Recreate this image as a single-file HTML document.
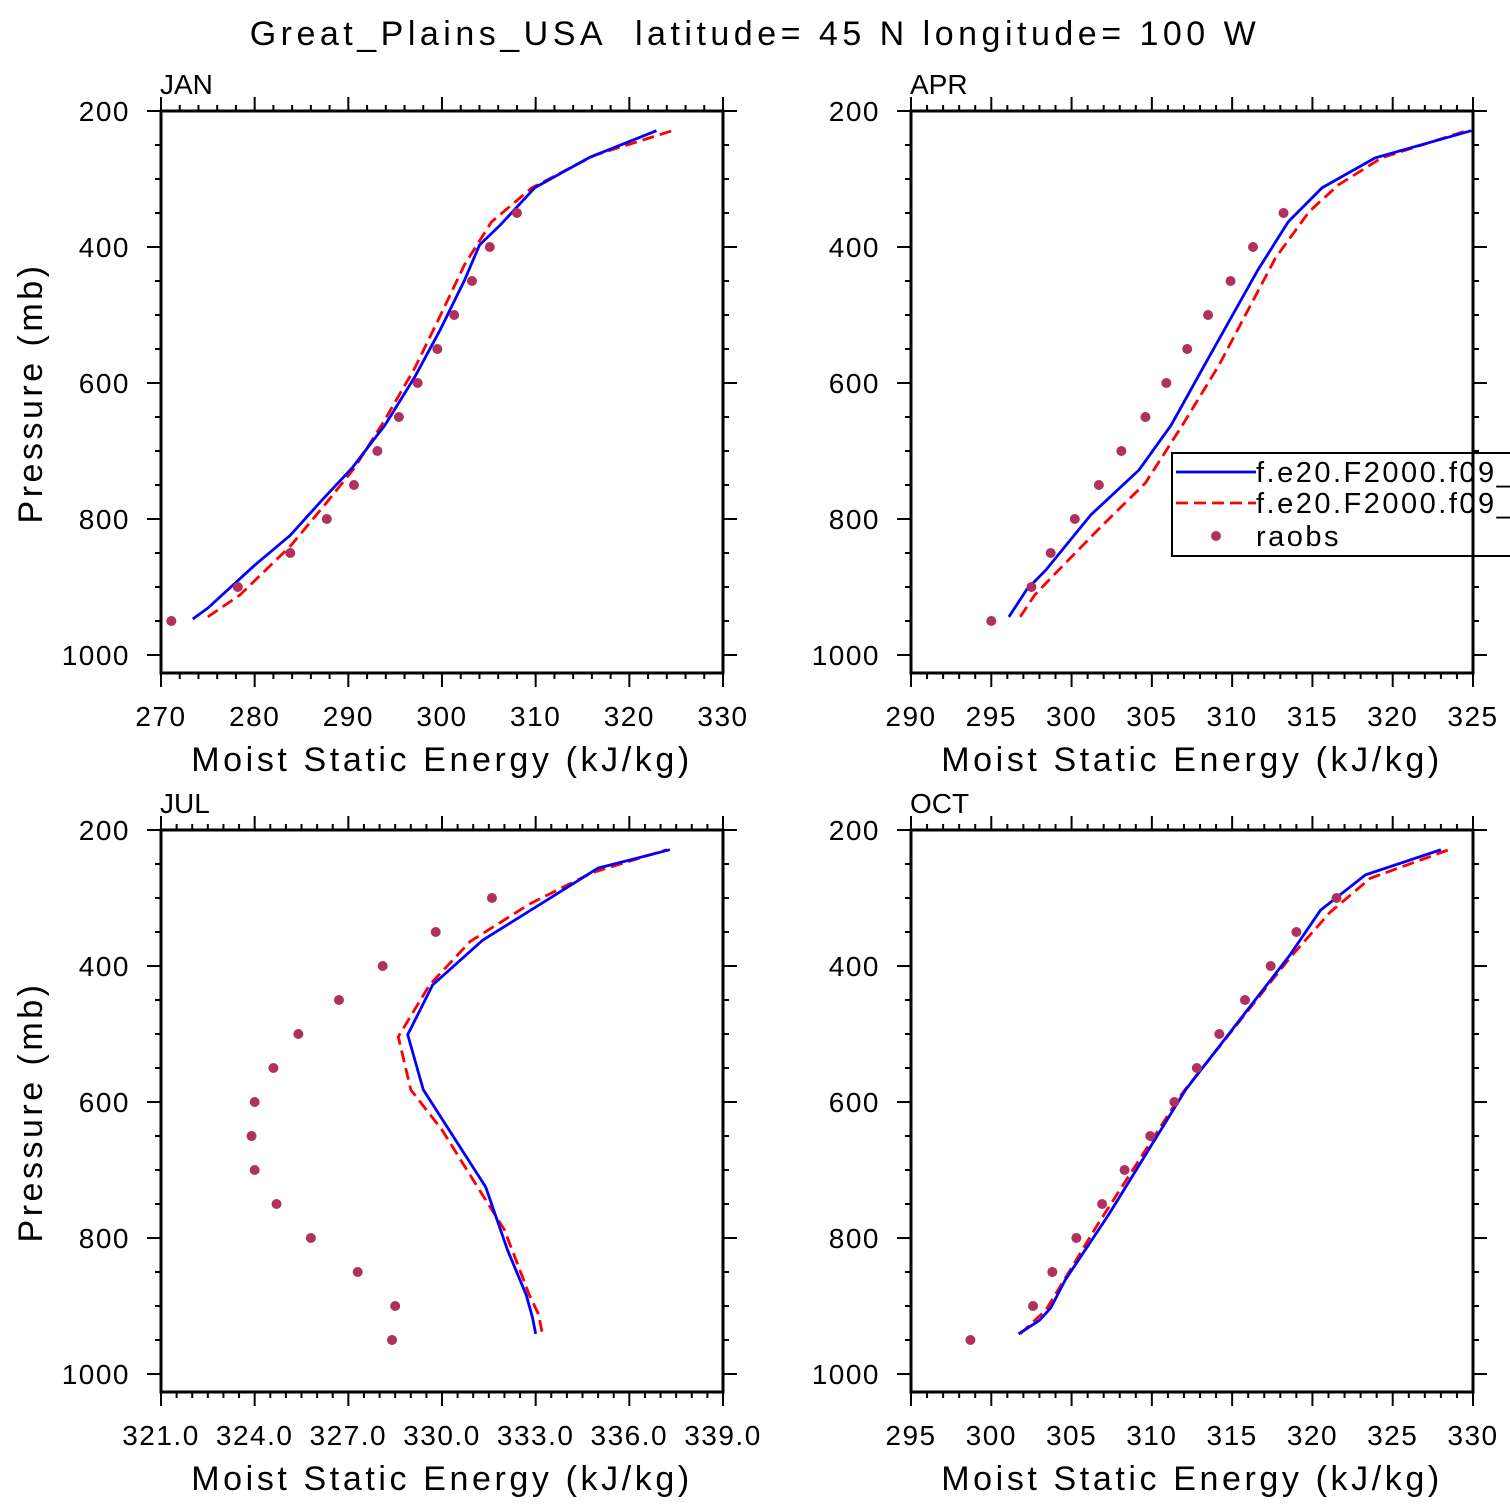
<!DOCTYPE html>
<html><head><meta charset="utf-8"><style>
body{margin:0;background:#fff;}
svg{display:block;}
text{font-family:"Liberation Sans","DejaVu Sans",sans-serif;fill:#000;}
</style></head><body>
<svg id="c" width="1510" height="1510" viewBox="0 0 1510 1510" xmlns="http://www.w3.org/2000/svg">
<text x="755" y="45" text-anchor="middle" font-size="34" letter-spacing="4.5">Great_Plains_USA&#160; latitude= 45 N longitude= 100 W</text>
</svg>
<script>
// raob pressure levels
const raobP = [950,900,850,800,750,700,650,600,550,500,450,400,350];
const raobPJul = [950,900,850,800,750,700,650,600,550,500,450,400,350,300];
const raobPOct = [950,900,850,800,750,700,650,600,550,500,450,400,350,300];
// JAN
const janRaob = [271.1,278.2,283.8,287.7,290.6,293.1,295.4,297.4,299.5,301.3,303.2,305.1,308.0];
const janBlueX = [273.4,275,280,283.8,287.2,290.4,293.9,297.1,299.8,302.4,304,306.2,309.9,315.8,322.9];
const janBlueP = [947,931,868,824,772,725,662,591,522,449,397,368,313,268,229];
const janRedX = [275,278.4,283.8,287.5,290.7,293.9,297.1,299.6,302.4,305.3,309.6,316.3,324.6];
const janRedP = [944,912,840,779,724,654,578,507,426,363,313,265,229];
// APR
const aprRaob = [295.0,297.5,298.7,300.2,301.7,303.1,304.6,305.9,307.2,308.5,309.9,311.3,313.2];
const aprBlueX = [296.1,297.2,298.4,301.2,304.2,306.2,308.3,311.6,313.5,315.6,318.9,324.9];
const aprBlueP = [944,904,875,794,728,662,573,434,363,313,269,229];
const aprRedX = [296.8,297.7,298.7,301.8,304.6,306.9,309.2,312.7,314.8,316.6,319.3,324.6];
const aprRedP = [944,912,887,812,747,662,573,416,348,309,269,229];
// JUL
const julRaob = [328.4,328.5,327.3,325.8,324.7,324.0,323.9,324.0,324.6,325.4,326.7,328.1,329.8,331.6];
const julBlueX = [333.0,332.9,332.7,332.1,331.4,329.4,328.9,329.7,331.3,335.0,337.3];
const julBlueP = [941,917,884,818,725,582,501,428,362,256,229];
const julRedX = [333.2,333.1,332.8,332.0,331.1,330.0,329.0,328.6,329.6,330.9,332.8,334.8,337.2];
const julRedP = [938,913,884,788,722,641,582,504,428,364,309,263,229];
// OCT
const octRaob = [298.7,302.6,303.8,305.3,306.9,308.3,309.9,311.4,312.8,314.2,315.8,317.4,319.0,321.5];
const octBlueX = [301.7,302.1,303.0,303.7,304.6,307.3,312.1,318.6,320.5,323.3,328.0];
const octBlueP = [941,935,921,903,862,766,582,384,318,266,229];
const octRedX = [301.8,303.4,306.6,311.8,318.6,321.1,323.6,328.5];
const octRedP = [941,906,781,590,388,321,271,229];
// axes ticks
const pTicks = [200,400,600,800,1000];
const janXTicks = [270,280,290,300,310,320,330];
const aprXTicks = [290,295,300,305,310,315,320,325];
const julXTicks = [321,324,327,330,333,336,339];
const octXTicks = [295,300,305,310,315,320,325,330];

const NS='http://www.w3.org/2000/svg';
const svg=document.getElementById('c');
function mk(tag,attrs,parent){const e=document.createElementNS(NS,tag);for(const k in attrs)e.setAttribute(k,attrs[k]);(parent||svg).appendChild(e);return e;}

function panel(cfg){
  const L=cfg.x0,R=cfg.x0+562,T=cfg.y0,B=cfg.y0+562;
  const g=mk('g',{});
  
  
  const xs=v=>L+(v-cfg.xmin)/(cfg.xmax-cfg.xmin)*(R-L);
  const ys=p=>T+(p-200)/200*136;
  const cid='clip-'+cfg.name;
  const cp=mk('clipPath',{id:cid},g);mk('rect',{x:L,y:T,width:R-L,height:B-T},cp);
  const dg=mk('g',{'clip-path':'url(#'+cid+')'},g);
  
  
  const pts=(X,P)=>X.map((v,i)=>xs(v).toFixed(1)+','+ys(P[i]).toFixed(1)).join(' ');
  const red=mk('polyline',{points:pts(cfg.redX,cfg.redP),fill:'none',stroke:'#ff0000','stroke-width':2.8,'stroke-dasharray':'12,6'},dg);
  
  
  const blue=mk('polyline',{points:pts(cfg.blueX,cfg.blueP),fill:'none',stroke:'#0000ff','stroke-width':2.8},dg);
  
  
  cfg.raob.forEach((v,i)=>{
    const c=mk('circle',{cx:xs(v),cy:ys(cfg.raobP[i]),r:5,fill:'#b03060'},g);
    
    
  });
  const tk=mk('g',{stroke:'#000','stroke-width':2},g);
  for(let p=200;p<=1025;p+=50){
    const maj=p%200===0;const len=maj?14:6;const y=ys(p);
    mk('line',{x1:L-len,y1:y,x2:L,y2:y},tk);
    mk('line',{x1:R,y1:y,x2:R+len,y2:y},tk);
  }
  const xt=cfg.xticks, step=(xt[1]-xt[0])/cfg.minorN;
  for(let v=cfg.xmin;v<=cfg.xmax+1e-6;v+=step){
    const k=Math.round((v-cfg.xmin)/step);const maj=k%cfg.minorN===0;const len=maj?14:6;const x=xs(v);
    mk('line',{x1:x,y1:B,x2:x,y2:B+len},tk);
    mk('line',{x1:x,y1:T-len,x2:x,y2:T},tk);
  }
  const box=mk('rect',{x:L,y:T,width:R-L,height:B-T,fill:'none',stroke:'#000','stroke-width':3},g);
  
  
  pTicks.forEach(p=>{
    const t=mk('text',{x:L-31,y:ys(p)+10,'text-anchor':'end','font-size':28,'letter-spacing':1.5},g);t.textContent=p;
    
    
  });
  xt.forEach(v=>{
    const t=mk('text',{x:xs(v),y:B+53,'text-anchor':'middle','font-size':28,'letter-spacing':1.5},g);t.textContent=cfg.fmt?v.toFixed(1):v;
    
    
  });
  const xl=mk('text',{x:(L+R)/2,y:B+98,'text-anchor':'middle','font-size':34,'letter-spacing':3.6},g);xl.textContent='Moist Static Energy (kJ/kg)';
  
  
  if(cfg.ylab){
    const yl=mk('text',{x:0,y:0,'text-anchor':'middle','font-size':34,'letter-spacing':3.5,transform:'translate(42,'+(ys(600)+10)+') rotate(-90)'},g);yl.textContent='Pressure (mb)';
    
    
  }
  const mt=mk('text',{x:L-1,y:T-17,'font-size':28},g);mt.textContent=cfg.label;
  
  
}
panel({name:'jan',label:'JAN',x0:161,y0:111,xmin:270,xmax:330,xticks:janXTicks,minorN:5,raob:janRaob,raobP:raobP,blueX:janBlueX,blueP:janBlueP,redX:janRedX,redP:janRedP,ylab:true});
panel({name:'apr',label:'APR',x0:911,y0:111,xmin:290,xmax:325,xticks:aprXTicks,minorN:5,raob:aprRaob,raobP:raobP,blueX:aprBlueX,blueP:aprBlueP,redX:aprRedX,redP:aprRedP});
panel({name:'jul',label:'JUL',x0:161,y0:830,xmin:321,xmax:339,xticks:julXTicks,minorN:6,fmt:true,raob:julRaob,raobP:raobPJul,blueX:julBlueX,blueP:julBlueP,redX:julRedX,redP:julRedP,ylab:true});
panel({name:'oct',label:'OCT',x0:911,y0:830,xmin:295,xmax:330,xticks:octXTicks,minorN:5,raob:octRaob,raobP:raobPOct,blueX:octBlueX,blueP:octBlueP,redX:octRedX,redP:octRedP});

const lg=mk('g',{});


const lr=mk('rect',{x:1172,y:453,width:360,height:103,fill:'#fff',stroke:'#000','stroke-width':2},lg);


const l1=mk('line',{x1:1176,y1:472,x2:1256,y2:472,stroke:'#0000ff','stroke-width':2.8},lg);


const l2=mk('line',{x1:1176,y1:503,x2:1256,y2:503,stroke:'#ff0000','stroke-width':2.8,'stroke-dasharray':'12,6'},lg);


const l3=mk('circle',{cx:1216,cy:536,r:5,fill:'#b03060'},lg);


[['f.e20.F2000.f09_f09',482],['f.e20.F2000.f09_f09',513],['raobs',546]].forEach(([s,y])=>{
  const t=mk('text',{x:1256,y:y,'font-size':29,'letter-spacing':2.5},lg);t.textContent=s;
  
  
});
const ra=mk('line',{x1:1473,y1:440,x2:1473,y2:570,stroke:'#000','stroke-width':3});


</script>
</body></html>
